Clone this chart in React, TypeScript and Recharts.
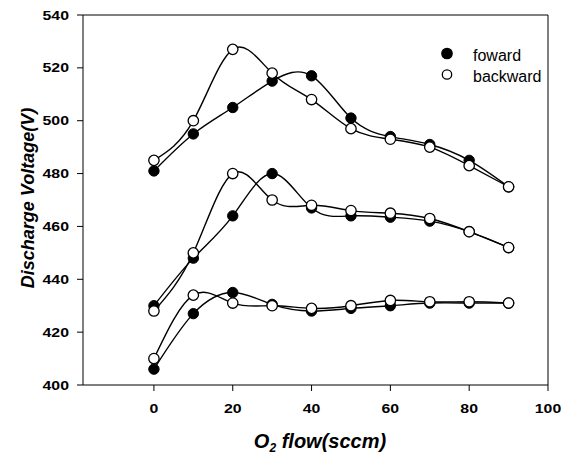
import { LineChart, Line, XAxis, YAxis, ReferenceLine } from "recharts";

// O2 flow (sccm) and discharge voltage (V)
const flow = [0, 10, 20, 30, 40, 50, 60, 70, 80, 90];

const forwardHigh = [481, 495, 505, 515, 517, 501, 494, 491, 485, 475];
const backwardHigh = [485, 500, 527, 518, 508, 497, 493, 490, 483, 475];
const forwardMid = [430, 448, 464, 480, 467, 464, 463.5, 462, 458, 452];
const backwardMid = [428, 450, 480, 470, 468, 466, 465, 463, 458, 452];
const forwardLow = [406, 427, 435, 430.5, 428, 429, 430, 431, 431, 431];
const backwardLow = [410, 434, 431, 430, 429, 430, 432, 431.5, 431.5, 431];

const xTicks = [0, 20, 40, 60, 80, 100];
const yTicks = [400, 420, 440, 460, 480, 500, 520, 540];

const FONT = "'Liberation Sans', Arial, sans-serif";

const toPoints = (values: number[]) =>
  flow.map((x, i) => ({ x, y: values[i] }));

const FilledDot = (props: any) => {
  const { cx, cy } = props;
  if (cx == null || cy == null) return null;
  return <circle cx={cx} cy={cy} r={5.2} fill="#000" stroke="#000" strokeWidth={1} />;
};

const OpenDot = (props: any) => {
  const { cx, cy } = props;
  if (cx == null || cy == null) return null;
  return <circle cx={cx} cy={cy} r={5.2} fill="#fff" stroke="#000" strokeWidth={1.3} />;
};

// the scan is a bit stretched sideways, so the tick digits are too
const XTick = ({ x, payload }: any) => (
  <text
    transform={`translate(${x}, 413) scale(1.22, 1)`}
    textAnchor="middle"
    fontFamily={FONT}
    fontSize={13}
    fontWeight="bold"
    fill="#000"
  >
    {payload.value}
  </text>
);

const YTick = ({ y, payload }: any) => (
  <text
    transform={`translate(69, ${y + 4.6}) scale(1.22, 1)`}
    textAnchor="end"
    fontFamily={FONT}
    fontSize={13}
    fontWeight="bold"
    fill="#000"
  >
    {payload.value}
  </text>
);

const forwardSeries = [
  { id: "fh", data: toPoints(forwardHigh) },
  { id: "fm", data: toPoints(forwardMid) },
  { id: "fl", data: toPoints(forwardLow) },
];
const backwardSeries = [
  { id: "bh", data: toPoints(backwardHigh) },
  { id: "bm", data: toPoints(backwardMid) },
  { id: "bl", data: toPoints(backwardLow) },
];

const legendItems = [
  { name: "foward", filled: true },
  { name: "backward", filled: false },
];

export default function App() {
  return (
    <div style={{ position: "absolute", left: 0, top: 0, width: 561, height: 455, background: "#fff" }}>
      <LineChart
        width={561}
        height={455}
        margin={{ top: 15, right: 13, bottom: 0, left: 0 }}
      >
        <XAxis
          type="number"
          dataKey="x"
          domain={[-18, 100]}
          ticks={xTicks}
          allowDataOverflow
          stroke="#000"
          tickSize={6}
          tick={<XTick />}
          height={70}
          label={({ viewBox }: any) => (
            <text
              x={320}
              y={448}
              textAnchor="middle"
              fontFamily={FONT}
              fontSize={20}
              fontWeight="bold"
              fontStyle="italic"
              fill="#000"
            >
              O
              <tspan fontSize={12} dy={4}>2</tspan>
              <tspan dy={-4}> flow(sccm)</tspan>
            </text>
          )}
        />
        <YAxis
          type="number"
          dataKey="y"
          domain={[400, 540]}
          ticks={yTicks}
          allowDataOverflow
          stroke="#000"
          tickSize={6}
          width={83}
          tick={<YTick />}
          label={({ viewBox }: any) => (
            <text
              x={28}
              y={198}
              transform="rotate(-90, 28, 198)"
              textAnchor="middle"
              dominantBaseline="central"
              fontFamily={FONT}
              fontSize={18}
              fontWeight="bold"
              fontStyle="italic"
              fill="#000"
            >
              Discharge Voltage(V)
            </text>
          )}
        />
        <ReferenceLine y={540} stroke="#000" />
        <ReferenceLine x={100} stroke="#000" />
        {forwardSeries.map((s) => (
          <Line
            key={s.id}
            data={s.data}
            dataKey="y"
            type="natural"
            stroke="#000"
            strokeWidth={1.4}
            dot={<FilledDot />}
            activeDot={false}
            isAnimationActive={false}
          />
        ))}
        {backwardSeries.map((s) => (
          <Line
            key={s.id}
            data={s.data}
            dataKey="y"
            type="natural"
            stroke="#000"
            strokeWidth={1.4}
            dot={<OpenDot />}
            activeDot={false}
            isAnimationActive={false}
          />
        ))}
      </LineChart>

      {/* legend, top right inside the plot */}
      <svg
        width={120}
        height={50}
        style={{ position: "absolute", left: 435, top: 40 }}
        fontFamily={FONT}
        fontSize={16}
      >
        {legendItems.map((item, i) => (
          <g key={item.name} transform={`translate(0, ${i * 21})`}>
            <circle
              cx={12}
              cy={13.5}
              r={item.filled ? 5.2 : 4.7}
              fill={item.filled ? "#000" : "#fff"}
              stroke="#000"
              strokeWidth={1.3}
            />
            <text x={38} y={20.5} fill="#000">
              {item.name}
            </text>
          </g>
        ))}
      </svg>
    </div>
  );
}
